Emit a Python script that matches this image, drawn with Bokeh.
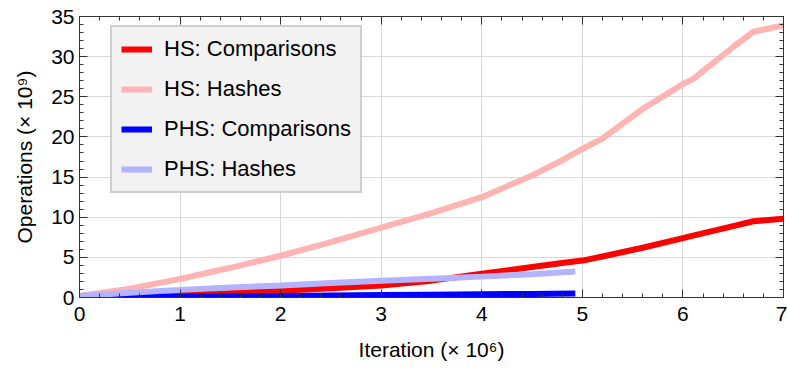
from bokeh.plotting import figure
from bokeh.models import Range1d, LinearAxis, Legend, LegendItem, FixedTicker
from bokeh.embed import file_html
from bokeh.resources import INLINE

# Data (iteration in millions, operations in billions)
hs_x = [0, 0.5, 1, 1.5, 2, 2.5, 3, 3.5, 4, 4.5, 4.8, 5, 5.2, 5.6, 6, 6.1, 6.5, 6.7, 7]
hs_hashes = [0.2, 1.1, 2.3, 3.7, 5.2, 6.9, 8.7, 10.5, 12.5, 15.2, 17.1, 18.5, 19.8, 23.5, 26.6, 27.2, 31.2, 33.1, 33.9]
hs_comparisons = [0.0, 0.1, 0.3, 0.55, 0.85, 1.15, 1.5, 2.1, 2.95, 3.8, 4.3, 4.6, 5.1, 6.2, 7.4, 7.7, 8.9, 9.5, 9.8]

phs_x = [0, 0.5, 1, 1.5, 2, 2.5, 3, 3.5, 4, 4.5, 4.93]
phs_hashes = [0.2, 0.6, 0.95, 1.25, 1.5, 1.8, 2.1, 2.35, 2.6, 2.9, 3.25]
phs_comparisons = [0.0, 0.05, 0.1, 0.15, 0.2, 0.25, 0.3, 0.35, 0.4, 0.45, 0.5]

x_ticks = [0, 1, 2, 3, 4, 5, 6, 7]
y_ticks = [0, 5, 10, 15, 20, 25, 30, 35]

FONT = "Liberation Sans"
AX = "#333333"

p = figure(width=787, height=371, output_backend="svg", toolbar_location=None,
           x_range=Range1d(0, 7), y_range=Range1d(0, 35),
           min_border_left=79, min_border_right=4, min_border_top=16, min_border_bottom=74)
p.outline_line_color = AX
p.outline_line_width = 1
p.background_fill_color = "white"
p.border_fill_color = "white"

p.xgrid.ticker = FixedTicker(ticks=x_ticks)
p.ygrid.ticker = FixedTicker(ticks=y_ticks)
p.xgrid.grid_line_color = "#d9d9d9"
p.ygrid.grid_line_color = "#d9d9d9"

def style_axis(ax, labels=True):
    ax.axis_line_color = AX
    ax.major_tick_line_color = AX
    ax.minor_tick_line_color = AX
    ax.major_tick_in = 8
    ax.major_tick_out = 0
    ax.minor_tick_in = 4
    ax.minor_tick_out = 0
    ax.major_label_text_font = FONT
    ax.major_label_text_font_size = "21px"
    ax.major_label_text_color = "black"
    ax.axis_label_text_font = FONT
    ax.axis_label_text_font_size = "21px"
    ax.axis_label_text_font_style = "normal"
    ax.axis_label_text_color = "black"
    if not labels:
        ax.major_label_text_font_size = "0px"
        ax.major_label_text_alpha = 0

p.xaxis.ticker = FixedTicker(ticks=x_ticks, minor_ticks=[i * 0.2 for i in range(36)])
p.yaxis.ticker = FixedTicker(ticks=y_ticks, minor_ticks=list(range(36)))
style_axis(p.xaxis[0])
style_axis(p.yaxis[0])
p.xaxis.axis_label = "Iteration (× 10⁶)"
p.yaxis.axis_label = "Operations (× 10⁹)"
p.xaxis.major_label_standoff = 9
p.yaxis.major_label_standoff = 5
p.xaxis.axis_label_standoff = 14
p.yaxis.axis_label_standoff = 12

top = LinearAxis(ticker=FixedTicker(ticks=x_ticks, minor_ticks=[i * 0.2 for i in range(36)]))
right = LinearAxis(ticker=FixedTicker(ticks=y_ticks, minor_ticks=list(range(36))))
style_axis(top, labels=False)
style_axis(right, labels=False)
top.major_label_standoff = 0
right.major_label_standoff = 0
p.add_layout(top, "above")
p.add_layout(right, "right")

r1 = p.line(hs_x, hs_hashes, line_color="#ffb3b3", line_width=6)
r2 = p.line(hs_x, hs_comparisons, line_color="#ff0000", line_width=6)
r3 = p.line(phs_x, phs_comparisons, line_color="#0000ff", line_width=6)
r4 = p.line(phs_x, phs_hashes, line_color="#b3b3ff", line_width=6)

legend = Legend(items=[
    LegendItem(label="HS: Comparisons", renderers=[r2]),
    LegendItem(label="HS: Hashes", renderers=[r1]),
    LegendItem(label="PHS: Comparisons", renderers=[r3]),
    LegendItem(label="PHS: Hashes", renderers=[r4]),
], location=(31, 104))
legend.label_text_font = FONT
legend.label_text_font_size = "22px"
legend.label_text_color = "black"
legend.glyph_width = 31
legend.glyph_height = 20
legend.label_height = 24
legend.label_standoff = 12
legend.spacing = 14
legend.padding = 9
legend.margin = 0
legend.background_fill_color = "#f2f2f2"
legend.background_fill_alpha = 1
legend.border_line_color = "#aaaaaa"
legend.border_line_width = 2
p.add_layout(legend, "center")

open("out.html", "w").write(file_html(p, INLINE))
